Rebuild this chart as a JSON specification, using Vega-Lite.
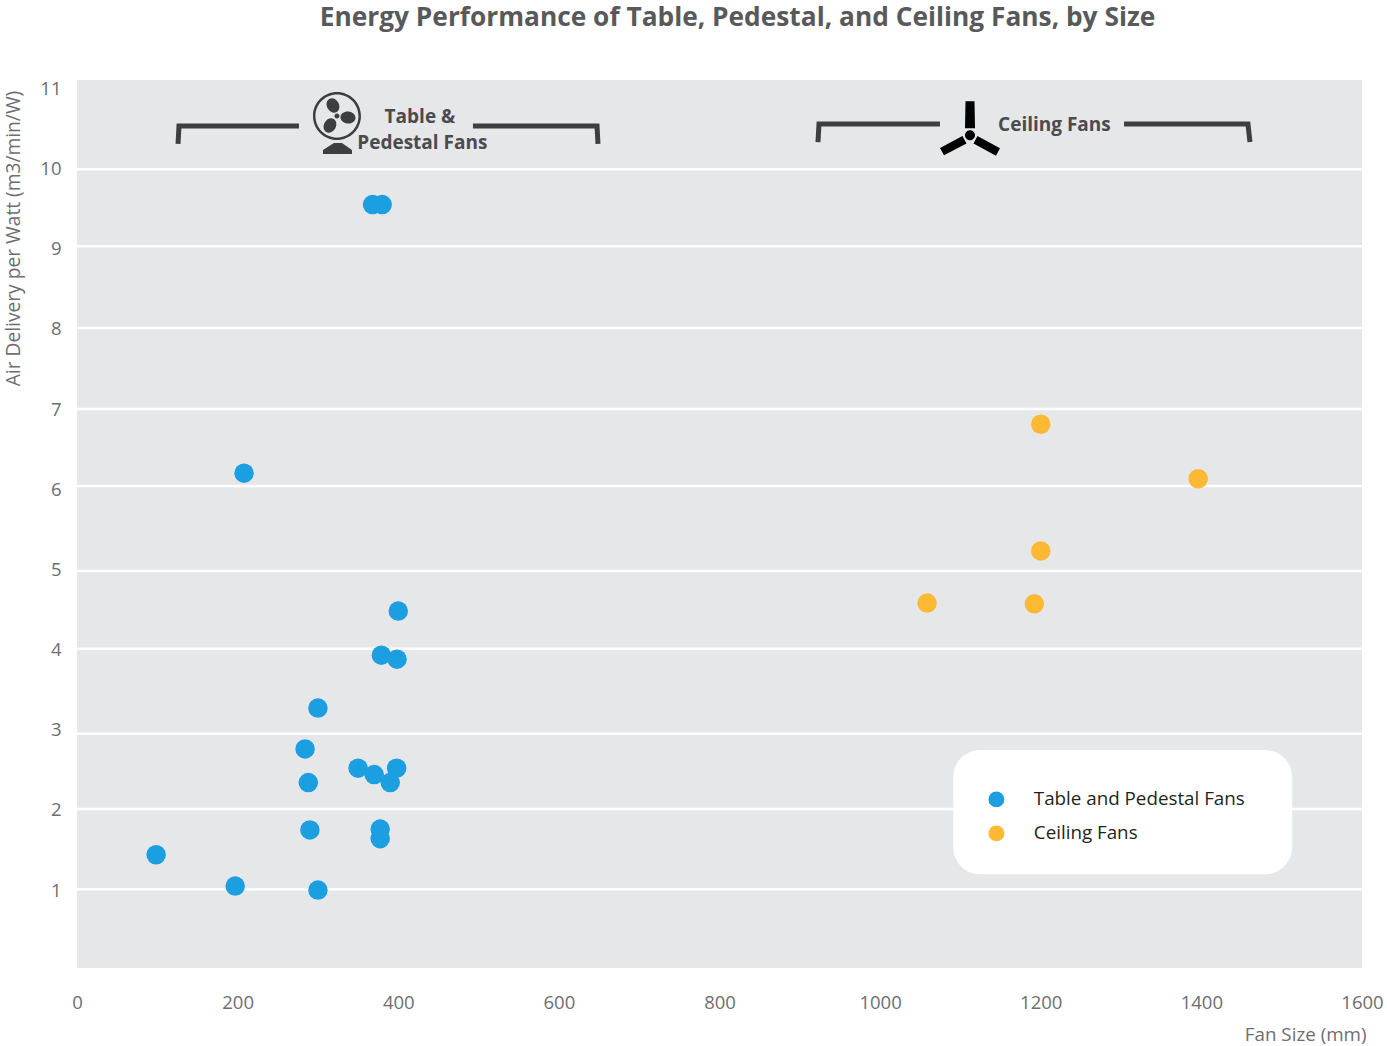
{
"$schema":"https://vega.github.io/schema/vega-lite/v6.json",
"width":1285,"height":888,
"autosize":{"type":"none"},
"padding":{"left":77,"top":80,"right":25,"bottom":78},
"background":"white",
"title":{"text":"Energy Performance of Table, Pedestal, and Ceiling Fans, by Size","anchor":"middle","dx":18,"offset":48,"font":"Open Sans","fontSize":26.3,"fontWeight":"bold","color":"#58595b"},
"config":{"view":{"stroke":null,"fill":"#e6e7e9"},"font":"Open Sans"},
"encoding":{
 "x":{"field":"size","type":"quantitative","scale":{"domain":[0,1600],"nice":false},
    "axis":{"values":[0,200,400,600,800,1000,1200,1400,1600],"format":"d","grid":false,"domain":false,"ticks":false,"labelFont":"Open Sans","labelFontSize":18.5,"labelColor":"#6d6e71","labelPadding":25,"labelFlush":false,"labelBound":false,"labelOverlap":false,
    "title":"Fan Size (mm)","titleFont":"Open Sans","titleFontSize":18.8,"titleFontWeight":"normal","titleColor":"#6d6e71","titleAnchor":"end","titleAlign":"right","titleBaseline":"middle","titleX":1289,"titleY":66}},
 "y":{"field":"air","type":"quantitative","scale":{"domain":[0.0274,11.104],"nice":false,"zero":false},
    "axis":{"values":[1,2,3,4,5,6,7,8,9,10,11],"grid":false,"domain":false,"ticks":false,"labelFont":"Open Sans","labelFontSize":18.5,"labelColor":"#6d6e71","labelPadding":16,"labelBound":false,"labelFlush":false,"labelOverlap":false,
    "title":"Air Delivery per Watt (m3/min/W)","titleFont":"Open Sans","titleFontSize":19.2,"titleFontWeight":"normal","titleColor":"#6d6e71","titleAnchor":"middle","titleAlign":"center","titleBaseline":"middle","titleAngle":-90,"titleX":-64,"titleY":158}}
},
"datasets":{
"fans":[
{"size":368,"air":9.55,"type":"Table and Pedestal Fans"},
{"size":380,"air":9.55,"type":"Table and Pedestal Fans"},
{"size":208,"air":6.2,"type":"Table and Pedestal Fans"},
{"size":400,"air":4.48,"type":"Table and Pedestal Fans"},
{"size":379,"air":3.93,"type":"Table and Pedestal Fans"},
{"size":398.5,"air":3.88,"type":"Table and Pedestal Fans"},
{"size":300,"air":3.27,"type":"Table and Pedestal Fans"},
{"size":284,"air":2.76,"type":"Table and Pedestal Fans"},
{"size":288,"air":2.34,"type":"Table and Pedestal Fans"},
{"size":350,"air":2.52,"type":"Table and Pedestal Fans"},
{"size":370,"air":2.44,"type":"Table and Pedestal Fans"},
{"size":390,"air":2.34,"type":"Table and Pedestal Fans"},
{"size":398,"air":2.52,"type":"Table and Pedestal Fans"},
{"size":290,"air":1.75,"type":"Table and Pedestal Fans"},
{"size":377.5,"air":1.76,"type":"Table and Pedestal Fans"},
{"size":377.5,"air":1.64,"type":"Table and Pedestal Fans"},
{"size":98.5,"air":1.44,"type":"Table and Pedestal Fans"},
{"size":197,"air":1.05,"type":"Table and Pedestal Fans"},
{"size":300,"air":1.0,"type":"Table and Pedestal Fans"},
{"size":1200,"air":6.81,"type":"Ceiling Fans"},
{"size":1396,"air":6.13,"type":"Ceiling Fans"},
{"size":1200,"air":5.23,"type":"Ceiling Fans"},
{"size":1058.5,"air":4.58,"type":"Ceiling Fans"},
{"size":1192,"air":4.57,"type":"Ceiling Fans"}
],
"brackets":[
{"g":"a","o":1,"size":125.8,"air":10.306},{"g":"a","o":2,"size":127,"air":10.53},{"g":"a","o":3,"size":276.4,"air":10.53},
{"g":"b","o":1,"size":493,"air":10.53},{"g":"b","o":2,"size":647.5,"air":10.53},{"g":"b","o":3,"size":648.7,"air":10.306},
{"g":"c","o":1,"size":922.6,"air":10.33},{"g":"c","o":2,"size":923.9,"air":10.555},{"g":"c","o":3,"size":1074.5,"air":10.555},
{"g":"d","o":1,"size":1303.7,"air":10.555},{"g":"d","o":2,"size":1458,"air":10.555},{"g":"d","o":3,"size":1460.5,"air":10.33}
]
},
"layer":[
{"data":{"values":[{"size":0,"size2":1600,"air":9.99},{"size":0,"size2":1600,"air":9.03},{"size":0,"size2":1600,"air":8.01},{"size":0,"size2":1600,"air":7.0},{"size":0,"size2":1600,"air":6.04},{"size":0,"size2":1600,"air":4.98},{"size":0,"size2":1600,"air":4.01},{"size":0,"size2":1600,"air":2.95},{"size":0,"size2":1600,"air":2.01},{"size":0,"size2":1600,"air":1.01}]},
 "mark":{"type":"rule","color":"white","strokeWidth":2.5},
 "encoding":{"x2":{"field":"size2"}}},
{"data":{"values":[{"size":1091,"size2":1513,"air":1.198,"air2":2.747}]},
 "mark":{"type":"rect","color":"white","cornerRadius":27},
 "encoding":{"x2":{"field":"size2"},"y2":{"field":"air2"}}},
{"data":{"name":"brackets"},
 "mark":{"type":"line","color":"#3d3e40","strokeWidth":5,"strokeCap":"butt","strokeJoin":"miter"},
 "encoding":{"detail":{"field":"g"},"order":{"field":"o"}}},
{"data":{"values":[{"size":323.7,"air":10.655}]},
 "mark":{"type":"point","filled":true,"size":4,"color":"#3d3e40","opacity":1,
 "shape":"M-24,0 A24,24 0 1 1 24,0 A24,24 0 1 1 -24,0 Z M-21.5,0 A21.5,21.5 0 1 0 21.5,0 A21.5,21.5 0 1 0 -21.5,0 Z M-7.75,-17 A7.5,6 60 1 1 -0.25,-4 A7.5,6 60 1 1 -7.75,-17 Z M3.5,0.85 A7.5,6 5 1 1 18.5,2.15 A7.5,6 5 1 1 3.5,0.85 Z M-10.75,16 A7.5,6 -60 1 1 -3.25,3 A7.5,6 -60 1 1 -10.75,16 Z M-2.5,0 A2.5,2.5 0 1 1 2.5,0 A2.5,2.5 0 1 1 -2.5,0 Z M-14,38 L15,38 L15,34 L5,27 L-3,27 L-14,34 Z"}},
{"data":{"values":[{"size":1111.9,"air":10.414}]},
 "mark":{"type":"point","filled":true,"size":4,"color":"#000000","opacity":1,
 "shape":"M-5,0 A5,5 0 1 1 5,0 A5,5 0 1 1 -5,0 Z M-4.5,-34 L4.5,-34 L5,-7 L-5,-7 Z M-3.5,8.2 L-7.5,0.8 L-30,12.6 L-26,20 Z M3.5,8.2 L7.5,0.8 L30,13 L26,20.5 Z"}},
{"data":{"values":[{"size":427,"air":10.643,"label":"Table &"},{"size":430,"air":10.318,"label":"Pedestal Fans"},{"size":1217,"air":10.543,"label":"Ceiling Fans"}]},
 "mark":{"type":"text","font":"Open Sans","fontSize":19,"fontWeight":"bold","color":"#4a4b4d","align":"center","baseline":"middle"},
 "encoding":{"text":{"field":"label"}}},
{"data":{"name":"fans"},
 "mark":{"type":"circle","size":380,"opacity":1},
 "encoding":{
  "color":{"field":"type","type":"nominal","scale":{"domain":["Table and Pedestal Fans","Ceiling Fans"],"range":["#1b9fe0","#fdb933"]},
   "legend":{"orient":"none","legendX":910,"legendY":710,"title":null,"padding":0,"symbolSize":254,"symbolType":"circle","symbolOpacity":1,"labelFont":"Open Sans","labelFontSize":18.8,"labelColor":"#231f20","labelOffset":28,"rowPadding":14,"labelLimit":300}}}}
]
}
